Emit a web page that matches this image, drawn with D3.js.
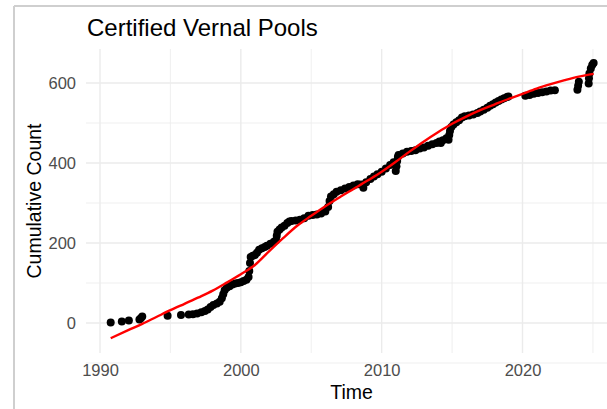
<!DOCTYPE html>
<html>
<head>
<meta charset="utf-8">
<script src="https://cdn.jsdelivr.net/npm/d3@7"></script>
<style>
  html, body { margin: 0; padding: 0; background: #ffffff; }
  svg { display: block; }
  text { font-family: "Liberation Sans", Arial, sans-serif; }
</style>
</head>
<body>
<svg id="chart" width="607" height="409"></svg>
<script>
// ---------- data ----------
const chartTitle = "Certified Vernal Pools";
const xTitle = "Time";
const yTitle = "Cumulative Count";

const xMajorTicks = [1990, 2000, 2010, 2020];
const xMinorTicks = [1995, 2005, 2015, 2025];
const yMajorTicks = [0, 200, 400, 600];
const yMinorTicks = [-100, 100, 300, 500];

// observed certifications: [decimal year, cumulative count]
const pointYears = [
  1990.76, 1991.55, 1992.05, 1992.8, 1992.9, 1993.0,
  1994.8, 1995.75, 1996.3, 1996.6, 1996.9, 1997.2, 1997.45, 1997.65, 1997.85,
  1998.05, 1998.3, 1998.5, 1998.65, 1998.75, 1998.85, 1999.0, 1999.2, 1999.4,
  1999.6, 1999.8, 2000.0, 2000.2, 2000.4, 2000.55, 2000.6, 2000.65, 2000.7,
  2000.85, 2001.0, 2001.15, 2001.3, 2001.5, 2001.7, 2001.85, 2002.1, 2002.35,
  2002.5, 2002.55, 2002.6, 2002.75, 2002.9, 2003.1, 2003.3, 2003.45, 2003.6,
  2003.9, 2004.2, 2004.5, 2004.8, 2005.1, 2005.4, 2005.7, 2006.0, 2006.2,
  2006.3, 2006.4, 2006.6, 2006.8, 2007.1, 2007.4, 2007.7, 2008.0, 2008.3,
  2008.55, 2008.7, 2008.9, 2009.2, 2009.45, 2009.7, 2010.0, 2010.3, 2010.6,
  2010.85, 2011.0, 2011.05, 2011.1, 2011.15, 2011.2, 2011.5, 2011.8, 2012.1,
  2012.4, 2012.7, 2013.0, 2013.3, 2013.6, 2013.9, 2014.1, 2014.2, 2014.35,
  2014.6, 2014.75, 2014.8, 2014.85, 2014.95, 2015.1, 2015.3, 2015.5, 2015.7,
  2015.9, 2016.2, 2016.5, 2016.8, 2017.0, 2017.25, 2017.5, 2017.7, 2017.9,
  2018.1, 2018.3, 2018.5, 2018.7, 2018.9, 2019.0,
  2020.2, 2020.5, 2020.8, 2021.1, 2021.4, 2021.7, 2022.0, 2022.3,
  2023.9, 2023.95, 2024.0, 2024.7, 2024.72, 2024.75, 2024.85, 2024.95, 2025.05
];
const pointCounts = [
  1, 4, 6, 9, 12, 16,
  18, 20, 21, 22, 24, 27, 30, 34, 40,
  45, 49, 53, 62, 72, 82, 88, 92, 96,
  99, 100, 102, 105, 108, 115, 130, 150, 165,
  168, 170, 176, 183, 187, 190, 193, 198, 203,
  207, 218, 228, 234, 239, 243, 250, 254, 255,
  256, 258, 262, 268, 270, 271, 274, 279, 290,
  305, 316, 322, 328, 332, 336, 340, 344, 347,
  346, 338, 352, 360, 366, 372, 378, 386, 395,
  402, 380, 392, 405, 415, 420, 424, 428, 430,
  432, 436, 439, 443, 447, 450, 454, 450, 457,
  462, 458, 470, 480, 490, 496, 502, 507, 514,
  517, 519, 521, 525, 529, 533, 538, 543, 547,
  551, 555, 559, 562, 565, 566,
  568, 570, 573, 575, 577, 579, 581, 582,
  583, 593, 603, 599, 612, 624, 636, 645, 650
];

// smoothed trend (red line)
const smoothYears = [1990.76, 1992, 1993, 1994, 1995, 1996, 1997, 1998, 1999, 2000,
  2001, 2002, 2003, 2004, 2005, 2006, 2007, 2008, 2009, 2010, 2011, 2012,
  2013, 2014, 2015, 2016, 2017, 2018, 2019, 2020, 2021, 2022, 2023, 2024, 2025.05];
const smoothCounts = [-38, -18, -2, 15, 32, 48, 64, 81, 101, 122,
  145, 179, 212, 243, 268, 292, 314, 335, 356, 378, 403, 429,
  454, 477, 498, 516, 532, 546, 560, 573, 586, 597, 607, 616, 623];

// ---------- drawing ----------
const svg = d3.select("#chart");
const W = 607, H = 409;

const panel = { left: 86, right: 617, top: 49, bottom: 353 };

// x: 1990 -> 100px, 2020 -> 522.5px
const x = d3.scaleLinear()
  .domain([1989.0, 2026.7])
  .range([100 - 14.0833, 100 + 36.7 * 14.0833]);
// y: 0 -> 323px, 600 -> 83px
const y = d3.scaleLinear()
  .domain([-75, 685])
  .range([353, 49]);

// frame (screenshot border)
svg.append("line").attr("x1", 14).attr("x2", 14).attr("y1", 6).attr("y2", H)
  .attr("stroke", "#cfcfcf").attr("stroke-width", 2);
svg.append("line").attr("x1", 14).attr("x2", W).attr("y1", 6).attr("y2", 6)
  .attr("stroke", "#cfcfcf").attr("stroke-width", 2);

const grid = svg.append("g");
// minor grid
grid.selectAll(".hmin").data(yMinorTicks).join("line")
  .attr("x1", panel.left).attr("x2", panel.right)
  .attr("y1", d => y(d)).attr("y2", d => y(d))
  .attr("stroke", "#ebebeb").attr("stroke-width", 0.8);
grid.selectAll(".vmin").data(xMinorTicks).join("line")
  .attr("x1", d => x(d)).attr("x2", d => x(d))
  .attr("y1", panel.top).attr("y2", panel.bottom)
  .attr("stroke", "#ebebeb").attr("stroke-width", 0.8);
// major grid
grid.selectAll(".hmaj").data(yMajorTicks).join("line")
  .attr("x1", panel.left).attr("x2", panel.right)
  .attr("y1", d => y(d)).attr("y2", d => y(d))
  .attr("stroke", "#ebebeb").attr("stroke-width", 1.4);
grid.selectAll(".vmaj").data(xMajorTicks).join("line")
  .attr("x1", d => x(d)).attr("x2", d => x(d))
  .attr("y1", panel.top).attr("y2", panel.bottom)
  .attr("stroke", "#ebebeb").attr("stroke-width", 1.4);

// axes (labels via d3 axes, no domain / tick lines)
const yAxis = svg.append("g")
  .attr("transform", `translate(${panel.left},0)`)
  .call(d3.axisLeft(y).tickValues(yMajorTicks).tickSize(0).tickPadding(10));
yAxis.select(".domain").remove();
yAxis.selectAll("text")
  .attr("font-family", "'Liberation Sans', Arial, sans-serif")
  .attr("font-size", 16.5).attr("fill", "#4d4d4d");

const xAxis = svg.append("g")
  .attr("transform", `translate(0,${panel.bottom})`)
  .call(d3.axisBottom(x).tickValues(xMajorTicks).tickFormat(d3.format("d")).tickSize(0).tickPadding(11));
xAxis.select(".domain").remove();
xAxis.selectAll("text")
  .attr("font-family", "'Liberation Sans', Arial, sans-serif")
  .attr("font-size", 16.5).attr("fill", "#4d4d4d");

// points
const pts = pointYears.map((yr, i) => ({ t: yr, c: pointCounts[i] }));
svg.append("g").selectAll("circle").data(pts).join("circle")
  .attr("cx", d => x(d.t)).attr("cy", d => y(d.c))
  .attr("r", 4).attr("fill", "#000000");

// smooth line
const sm = smoothYears.map((yr, i) => ({ t: yr, c: smoothCounts[i] }));
svg.append("path").datum(sm)
  .attr("fill", "none").attr("stroke", "#ff0000").attr("stroke-width", 2.4)
  .attr("d", d3.line().x(d => x(d.t)).y(d => y(d.c)).curve(d3.curveMonotoneX));

// titles
svg.append("text").attr("x", 87).attr("y", 36)
  .attr("font-size", 24).attr("fill", "#000").text(chartTitle);

svg.append("text").attr("x", (panel.left + panel.right) / 2).attr("y", 399)
  .attr("text-anchor", "middle").attr("font-size", 19.5).attr("fill", "#000").text(xTitle);

svg.append("text")
  .attr("transform", `translate(41,${(panel.top + panel.bottom) / 2}) rotate(-90)`)
  .attr("text-anchor", "middle").attr("font-size", 19.5).attr("fill", "#000").text(yTitle);
</script>
</body>
</html>
